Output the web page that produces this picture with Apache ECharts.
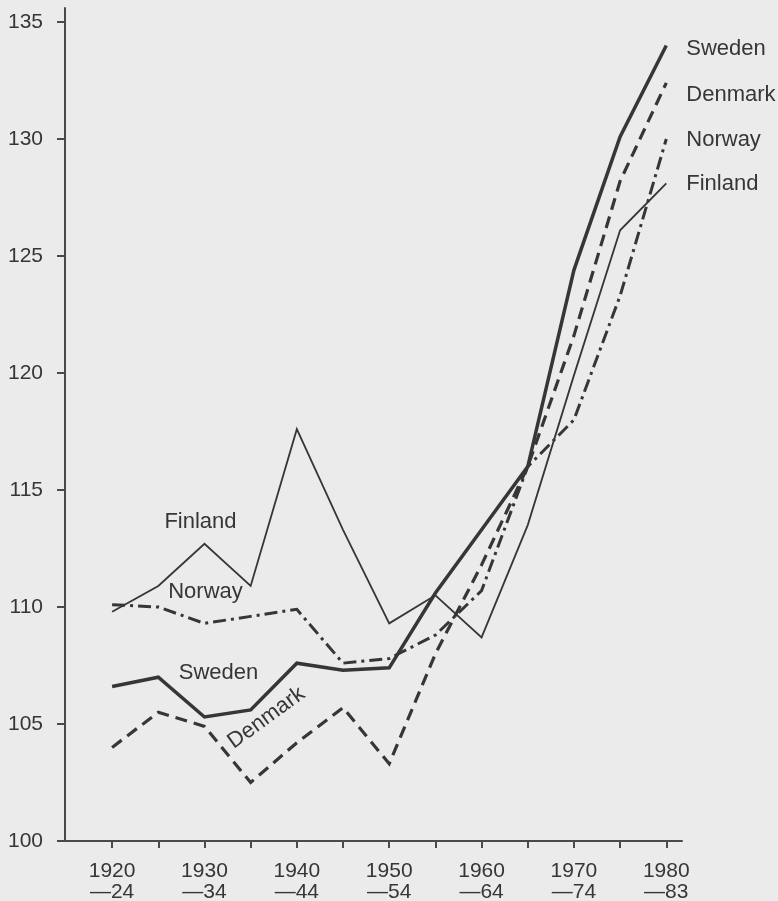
<!DOCTYPE html>
<html>
<head>
<meta charset="utf-8">
<script src="https://cdn.jsdelivr.net/npm/echarts@6/dist/echarts.min.js"></script>
<style>
  html, body { margin: 0; padding: 0; background: #ebebeb; }
  #chart { width: 778px; height: 901px; }
</style>
</head>
<body>
<div id="chart"></div>
<script>
// Five-year periods (first year of each period)
const years = [1920, 1925, 1930, 1935, 1940, 1945, 1950, 1955, 1960, 1965, 1970, 1975, 1980];

// Index values per country
const sweden  = [106.6, 107.0, 105.3, 105.6, 107.6, 107.3, 107.4, 110.6, 113.3, 116.0, 124.4, 130.1, 134.0];
const denmark = [104.0, 105.5, 104.9, 102.5, 104.2, 105.7, 103.3, 108.0, 111.8, 116.0, 121.6, 128.2, 132.4];
const norway  = [110.1, 110.0, 109.3, 109.6, 109.9, 107.6, 107.8, 108.8, 110.7, 116.0, 118.0, 123.3, 130.0];
const finland = [109.8, 110.9, 112.7, 110.9, 117.6, 113.3, 109.3, 110.5, 108.7, 113.5, 119.9, 126.1, 128.1];

// Axis tick values and period labels
const yTicks = [100, 105, 110, 115, 120, 125, 130, 135];
const labelYears = [1920, 1930, 1940, 1950, 1960, 1970, 1980];
const periodLabels = ['1920\n\u201424', '1930\n\u201434', '1940\n\u201444', '1950\n\u201454', '1960\n\u201464', '1970\n\u201474', '1980\n\u201483'];

const ink = '#363636';
const font = '"Liberation Sans", Arial, Helvetica, sans-serif';

const chart = echarts.init(document.getElementById('chart'), null, { renderer: 'canvas' });

function pairs(vals) {
  return years.map((y, i) => [y, vals[i]]);
}

// Inline name tag placed next to one of the series' own points
function tag(name, vals, idx, offset, rotate) {
  return {
    symbol: 'circle',
    symbolSize: 0,
    silent: true,
    data: [{
      coord: [years[idx], vals[idx]],
      label: {
        show: true,
        position: 'inside',
        formatter: name,
        offset: offset,
        rotate: rotate || 0,
        color: ink,
        fontFamily: font,
        fontSize: 22
      }
    }]
  };
}

function series(name, vals, width, type, endDy, markPoint) {
  return {
    name: name,
    type: 'line',
    data: pairs(vals),
    showSymbol: false,
    symbol: 'none',
    animation: false,
    lineStyle: { color: ink, width: width, type: type, cap: 'butt', join: 'miter' },
    endLabel: {
      show: true,
      formatter: name,
      distance: 20,
      offset: [0, endDy],
      color: ink,
      fontFamily: font,
      fontSize: 22
    },
    markPoint: markPoint,
    z: 3
  };
}

chart.setOption({
  backgroundColor: '#ebebeb',
  animation: false,
  grid: { left: 65, right: 96, top: 8, bottom: 60, containLabel: false, outerBoundsMode: 'none' },
  xAxis: {
    type: 'value',
    min: 1914.9,
    max: 1981.7,
    axisLine: { onZero: false, lineStyle: { color: '#4a4a4a', width: 2 } },
    axisTick: { show: true, customValues: years, length: 7, lineStyle: { color: '#4a4a4a', width: 2 } },
    axisLabel: {
      customValues: labelYears,
      formatter: v => periodLabels[labelYears.indexOf(v)] || '',
      color: ink,
      fontFamily: font,
      fontSize: 21,
      lineHeight: 21,
      margin: 20
    },
    splitLine: { show: false }
  },
  yAxis: {
    type: 'value',
    min: 100,
    max: 135.6,
    axisLine: { show: true, onZero: false, lineStyle: { color: '#4a4a4a', width: 2 } },
    axisTick: { show: true, customValues: yTicks, length: 8, lineStyle: { color: '#4a4a4a', width: 2 } },
    axisLabel: {
      customValues: yTicks,
      color: ink,
      fontFamily: font,
      fontSize: 21,
      margin: 22
    },
    splitLine: { show: false }
  },
  series: [
    series('Sweden', sweden, 3.5, 'solid', 3, tag('Sweden', sweden, 2, [14, -44])),
    series('Denmark', denmark, 3.2, [12, 7], 12, tag('Denmark', denmark, 4, [-10, -38], 36)),
    series('Norway', norway, 3, [13, 5, 3, 5], 1, tag('Norway', norway, 2, [1, -31])),
    series('Finland', finland, 1.8, 'solid', 0, tag('Finland', finland, 2, [-4, -22]))
  ]
});
</script>
</body>
</html>
